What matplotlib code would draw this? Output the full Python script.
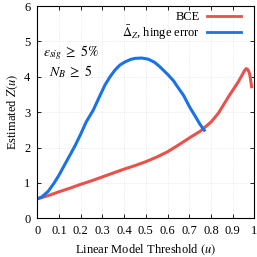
import numpy as np
import matplotlib
matplotlib.use("Agg")
import matplotlib.pyplot as plt

plt.rcParams['font.family'] = ['Liberation Serif', 'DejaVu Serif']
plt.rcParams['mathtext.fontset'] = 'stix'

# values
bce_u = [0.0, 0.05, 0.1, 0.15, 0.2, 0.25, 0.3, 0.35, 0.4, 0.45, 0.5, 0.55,
         0.6, 0.65, 0.7, 0.75, 0.8, 0.834, 0.88, 0.926, 0.945, 0.956, 0.962,
         0.967, 0.974, 0.979, 0.987]
bce_z = [0.55, 0.64, 0.75, 0.85, 0.96, 1.06, 1.17, 1.28, 1.39, 1.49, 1.6, 1.73,
         1.88, 2.07, 2.27, 2.46, 2.72, 2.97, 3.43, 3.86, 4.07, 4.19, 4.23,
         4.22, 4.15, 4.05, 3.72]

hinge_u = [0.0, 0.02, 0.05, 0.078, 0.1, 0.125, 0.15, 0.174, 0.2, 0.225, 0.258,
           0.285, 0.312, 0.335, 0.358, 0.38, 0.404, 0.43, 0.45, 0.48, 0.51,
           0.54, 0.565, 0.6, 0.627, 0.65, 0.673, 0.703, 0.726, 0.75, 0.769]
hinge_z = [0.55, 0.6, 0.76, 1.0, 1.22, 1.5, 1.78, 2.05, 2.38, 2.72, 3.06,
           3.42, 3.77, 4.0, 4.19, 4.33, 4.42, 4.49, 4.52, 4.53, 4.5,
           4.41, 4.28, 4.07, 3.89, 3.68, 3.48, 3.13, 2.9, 2.65, 2.49]

xticks = [0, 0.1, 0.2, 0.3, 0.4, 0.5, 0.6, 0.7, 0.8, 0.9, 1]
xtick_labels = ['0', '0.1', '0.2', '0.3', '0.4', '0.5', '0.6', '0.7', '0.8', '0.9', '1']
yticks = [0, 1, 2, 3, 4, 5, 6]

fig = plt.figure(figsize=(2.57, 2.57), dpi=100)
ax = fig.add_axes([0.145, 0.1506, 0.845, 0.826])

ax.plot(bce_u, bce_z, color='#e8524a', lw=2.2, label='BCE',
        solid_joinstyle='round')
ax.plot(hinge_u, hinge_z, color='#1a72e6', lw=2.2,
        label=r'$\bar{\Delta}_Z$, hinge error', solid_joinstyle='round')

ax.set_xlim(0, 1)
ax.set_ylim(0, 6)
ax.set_xticks(xticks)
ax.set_xticklabels(xtick_labels)
ax.set_yticks(yticks)
ax.tick_params(direction='in', top=True, right=True, length=3, width=0.6,
               labelsize=9, pad=5)
ax.grid(True, color='#dddddd', linestyle=':', linewidth=0.5)
for s in ax.spines.values():
    s.set_linewidth(0.8)

ax.set_xlabel(r'Linear Model Threshold $(u)$', fontsize=9, labelpad=4)
ax.set_ylabel(r'Estimated $Z(u)$', fontsize=9, labelpad=3)

ax.text(0.155, 0.778, r'$\varepsilon_{sig}\;\geq\;5\%$', transform=ax.transAxes,
        fontsize=10, ha='center', va='center')
ax.text(0.155, 0.693, r'$N_B\;\geq\;5$', transform=ax.transAxes,
        fontsize=10, ha='center', va='center')

leg = ax.legend(loc='upper right', bbox_to_anchor=(0.938, 0.975),
                frameon=False, fontsize=9, markerfirst=False,
                handlelength=2.7, handletextpad=0.55, borderpad=0,
                borderaxespad=0, labelspacing=0.0)
for line in leg.get_lines():
    line.set_linewidth(2.0)

fig.savefig('out.png', dpi=100)
